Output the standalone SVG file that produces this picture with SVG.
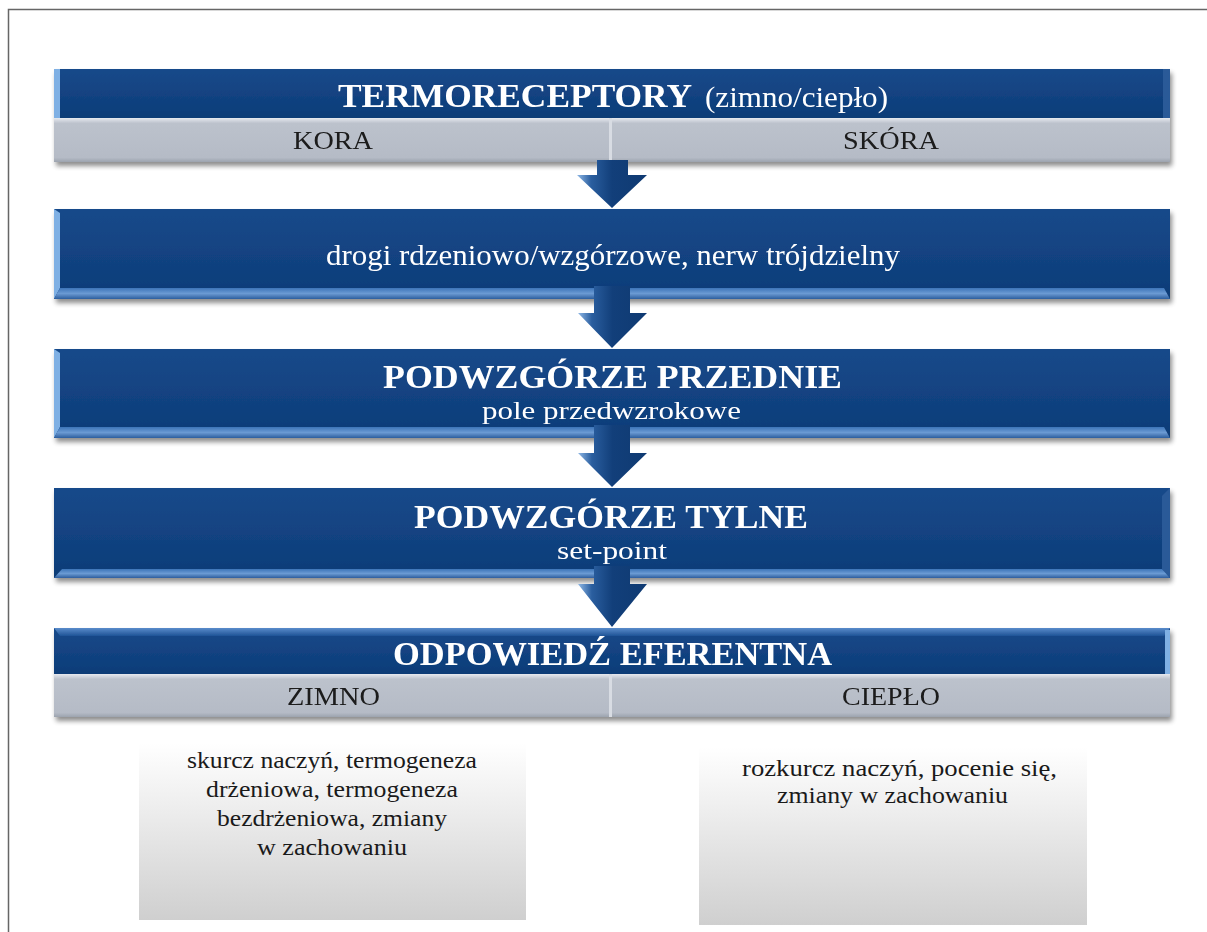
<svg xmlns="http://www.w3.org/2000/svg" width="1207" height="932" viewBox="0 0 1207 932">
<defs>
<linearGradient id="blue" x1="0" y1="0" x2="0" y2="1">
<stop offset="0" stop-color="#17498a"/><stop offset="0.8" stop-color="#0f3f7c"/><stop offset="1" stop-color="#0e3b75"/>
</linearGradient>
<linearGradient id="bevelB" x1="0" y1="0" x2="0" y2="1">
<stop offset="0" stop-color="#3c74b8"/><stop offset="0.5" stop-color="#6b9ad3"/><stop offset="1" stop-color="#2d5e9e"/>
</linearGradient>
<linearGradient id="bevelT" x1="0" y1="0" x2="0" y2="1">
<stop offset="0" stop-color="#5a8ccb"/><stop offset="1" stop-color="#1d5396"/>
</linearGradient>
<linearGradient id="gray" x1="0" y1="0" x2="0" y2="1">
<stop offset="0" stop-color="#e6e9ef"/><stop offset="0.12" stop-color="#bcc2cc"/><stop offset="0.9" stop-color="#b5bbc6"/><stop offset="1" stop-color="#9ca3ae"/>
</linearGradient>
<linearGradient id="fade" x1="0" y1="0" x2="0" y2="1">
<stop offset="0" stop-color="#ffffff"/><stop offset="1" stop-color="#cfcfcf"/>
</linearGradient>
<linearGradient id="arrowG" x1="0" y1="0" x2="1" y2="0">
<stop offset="0" stop-color="#8fb8e6"/><stop offset="0.2" stop-color="#2a5e9f"/><stop offset="0.5" stop-color="#123f7a"/><stop offset="1" stop-color="#0f3a72"/>
</linearGradient>
<filter id="sh" x="-5%" y="-20%" width="110%" height="150%">
<feGaussianBlur in="SourceAlpha" stdDeviation="2.5"/>
<feOffset dx="2" dy="4" result="b"/>
<feComponentTransfer><feFuncA type="linear" slope="0.45"/></feComponentTransfer>
<feMerge><feMergeNode/><feMergeNode in="SourceGraphic"/></feMerge>
</filter>
</defs>
<style>
.blue{fill:url(#blue)}
.gray{fill:url(#gray)}
.edgeL{fill:#7fb0e4}
.edgeR{fill:#2a5a98}
.bevB{fill:url(#bevelB)}
.bevT{fill:url(#bevelT)}
.tw{font-family:"Liberation Serif","Times New Roman",serif;fill:#ffffff;text-anchor:middle}
.tb{font-family:"Liberation Serif","Times New Roman",serif;fill:#1a1a1a;text-anchor:middle}
.st{text-anchor:start}
.h{font-size:34px;font-weight:bold}
.s{font-size:30px}
.s2{font-size:25px}
.g{font-size:26px}
.p{font-size:24px}
.arrow{fill:url(#arrowG)}
.box{fill:url(#fade)}
</style>
<rect x="0" y="0" width="1207" height="932" fill="#ffffff"/>
<path d="M8.5,932 V9.5 H1207" fill="none" stroke="#666666" stroke-width="1.5"/>

<g id="node-termoreceptory" filter="url(#sh)">
<rect class="blue" x="54" y="69" width="1116" height="50"/>
<rect class="edgeL" x="54" y="69" width="6" height="50"/>
<rect class="edgeR" x="1163" y="69" width="7" height="50"/>
<rect class="gray" x="54" y="118" width="557" height="44"/>
<rect class="gray" x="611" y="118" width="559" height="44"/>
<rect x="609" y="118" width="3" height="44" fill="#d8dce3"/>
<text class="tw h st" x="338" y="107" textLength="354" lengthAdjust="spacingAndGlyphs">TERMORECEPTORY</text>
<text class="tw s st" x="705" y="107" textLength="183" lengthAdjust="spacingAndGlyphs">(zimno/ciepło)</text>
<text class="tb g" x="333" y="149" textLength="80" lengthAdjust="spacingAndGlyphs">KORA</text>
<text class="tb g" x="891" y="149" textLength="96" lengthAdjust="spacingAndGlyphs">SKÓRA</text>
</g>

<g id="node-drogi" filter="url(#sh)">
<rect class="blue" x="54" y="209" width="1116" height="90"/>
<polygon class="edgeL" points="54,209 60,213 60,288 54,299"/>
<polygon class="bevB" points="54,299 60,288 1164,288 1170,299"/>
<text class="tw s" x="613" y="265" textLength="574" lengthAdjust="spacingAndGlyphs">drogi rdzeniowo/wzgórzowe, nerw trójdzielny</text>
</g>

<g id="node-przednie" filter="url(#sh)">
<rect class="blue" x="54" y="349" width="1116" height="89"/>
<polygon class="edgeL" points="54,349 60,353 60,427 54,438"/>
<polygon class="bevB" points="54,438 60,427 1164,427 1170,438"/>
<text class="tw h" x="612.5" y="388" textLength="459" lengthAdjust="spacingAndGlyphs">PODWZGÓRZE PRZEDNIE</text>
<text class="tw s2" x="611.5" y="419" textLength="259" lengthAdjust="spacingAndGlyphs">pole przedwzrokowe</text>
</g>

<g id="node-tylne" filter="url(#sh)">
<rect class="blue" x="54" y="488" width="1116" height="90"/>
<polygon class="edgeR" points="1170,488 1162,496 1162,569 1170,578"/>
<polygon class="bevB" points="54,578 62,569 1162,569 1170,578"/>
<text class="tw h" x="611" y="528" textLength="394" lengthAdjust="spacingAndGlyphs">PODWZGÓRZE TYLNE</text>
<text class="tw s2" x="612" y="559" textLength="110" lengthAdjust="spacingAndGlyphs">set-point</text>
</g>

<g id="node-odpowiedz" filter="url(#sh)">
<rect class="blue" x="54" y="628" width="1116" height="47"/>
<polygon class="bevT" points="54,628 1170,628 1164,636 60,636"/>
<rect class="edgeL" x="1165" y="630" width="5" height="45"/>
<rect class="gray" x="54" y="674" width="557" height="43"/>
<rect class="gray" x="611" y="674" width="559" height="43"/>
<rect x="609" y="674" width="3" height="43" fill="#d8dce3"/>
<text class="tw h" x="612.5" y="665" textLength="439" lengthAdjust="spacingAndGlyphs">ODPOWIEDŹ EFERENTNA</text>
<text class="tb g" x="333.5" y="705" textLength="93" lengthAdjust="spacingAndGlyphs">ZIMNO</text>
<text class="tb g" x="891" y="705" textLength="98" lengthAdjust="spacingAndGlyphs">CIEPŁO</text>
</g>

<g id="connectors">
<g id="arrow1"><path class="arrow" d="M597,160 H628 V175 H647 L612,208 L577,175 H597 Z"/></g>
<g id="arrow2"><path class="arrow" d="M594,286 H630 V313 H647 L612,348 L578,313 H594 Z"/></g>
<g id="arrow3"><path class="arrow" d="M594,425 H630 V453 H647 L612,487 L578,453 H594 Z"/></g>
<g id="arrow4"><path class="arrow" d="M594,566 H630 V584 H647 L612,627 L578,584 H594 Z"/></g>
</g>

<g id="node-zimno-effects">
<rect class="box" x="139" y="743" width="387" height="177"/>
<text class="tb p" x="332" y="768" textLength="290" lengthAdjust="spacingAndGlyphs">skurcz naczyń, termogeneza</text>
<text class="tb p" x="332" y="797" textLength="252" lengthAdjust="spacingAndGlyphs">drżeniowa, termogeneza</text>
<text class="tb p" x="332" y="826" textLength="230" lengthAdjust="spacingAndGlyphs">bezdrżeniowa, zmiany</text>
<text class="tb p" x="332" y="855" textLength="150" lengthAdjust="spacingAndGlyphs">w zachowaniu</text>
</g>

<g id="node-cieplo-effects">
<rect class="box" x="699" y="747" width="388" height="178"/>
<text class="tb p" x="899.5" y="776" textLength="315" lengthAdjust="spacingAndGlyphs">rozkurcz naczyń, pocenie się,</text>
<text class="tb p" x="892.5" y="803" textLength="231" lengthAdjust="spacingAndGlyphs">zmiany w zachowaniu</text>
</g>
</svg>
